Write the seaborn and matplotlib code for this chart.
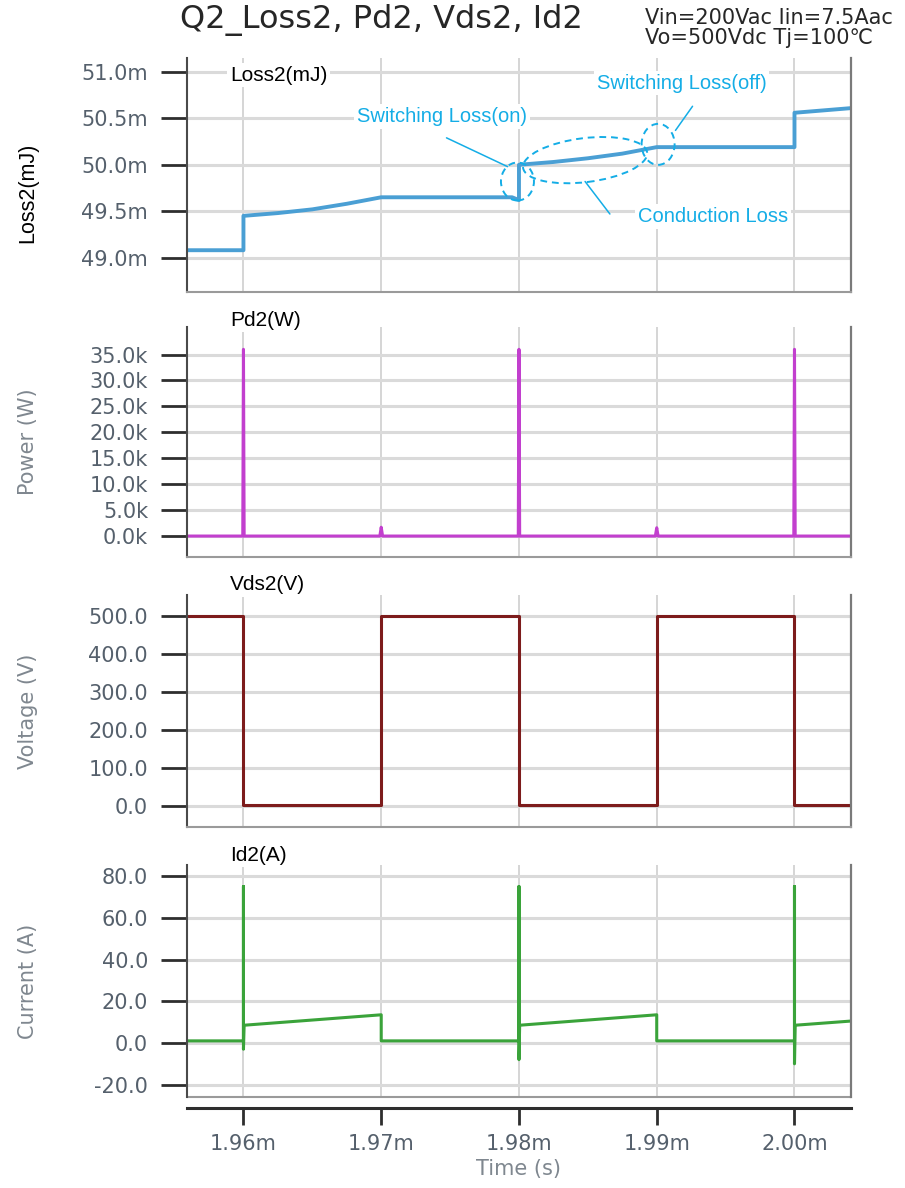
"""Q2 loss / power / Vds / Id waveforms, four stacked panels."""

import matplotlib.pyplot as plt
import seaborn as sns
from matplotlib.lines import Line2D
from matplotlib.patches import Ellipse
from matplotlib.transforms import ScaledTranslation

sns.set_style("white")
plt.rcParams["font.family"] = ["DejaVu Sans", "Noto Sans CJK JP"]

# time axis in ms (labels carry the "m" prefix of seconds)
X_MIN, X_MAX = 1.9559, 2.0041
time_ticks = [1.96, 1.97, 1.98, 1.99, 2.00]

# Loss2 (mJ)
t_loss = [1.9559, 1.9600, 1.9600, 1.9625, 1.9650, 1.9675, 1.9700, 1.9795,
          1.9800, 1.9800, 1.9825, 1.9850, 1.9875, 1.9900, 2.0000, 2.0000, 2.0041]
loss_mj = [49.08, 49.08, 49.45, 49.48, 49.52, 49.58, 49.65, 49.65,
           49.62, 50.00, 50.03, 50.07, 50.12, 50.19, 50.19, 50.56, 50.61]
loss_ticks = [49.0, 49.5, 50.0, 50.5, 51.0]

# Pd2 (kW)
t_pd = [1.9559, 1.95995, 1.9600, 1.96005, 1.9699, 1.9700, 1.9701, 1.97995, 1.9800,
        1.98005, 1.9899, 1.9900, 1.9901, 1.99995, 2.0000, 2.00005, 2.0041]
pd_kw = [0.0, 0.0, 36.0, 0.0, 0.0, 1.7, 0.0, 0.0, 36.0,
         0.0, 0.0, 1.6, 0.0, 0.0, 36.0, 0.0, 0.0]
pd_ticks = [0, 5, 10, 15, 20, 25, 30, 35]

# Vds2 (V)
t_vds = [1.9559, 1.9600, 1.9600, 1.9700, 1.9700, 1.9800, 1.9800, 1.9900,
         1.9900, 2.0000, 2.0000, 2.0041]
vds_v = [500, 500, 2, 2, 500, 500, 2, 2, 500, 500, 2, 2]
vds_ticks = [0, 100, 200, 300, 400, 500]

# Id2 (A)
t_id = [1.9559, 1.9600, 1.9600, 1.9600, 1.96005, 1.9700, 1.9700, 1.9800, 1.9800,
        1.9800, 1.98005, 1.9900, 1.9900, 2.0000, 2.0000, 2.0000, 2.00005, 2.0041]
id_a = [1.0, 1.0, 75.0, -3.0, 8.5, 13.5, 1.0, 1.0, 75.0,
        -8.0, 8.5, 13.5, 1.0, 1.0, 75.0, -10.0, 8.5, 10.5]
id_ticks = [-20, 0, 20, 40, 60, 80]

TICK_TXT = "#55606c"
LABEL_GREY = "#7f878f"
ANN = "#14ade6"
ARIAL = "Liberation Sans"

fig = plt.figure(figsize=(9.05, 11.88), dpi=100)
left, width = 0.2066, 0.7337
ax1 = fig.add_axes([left, 0.7542, width, 0.1970])
ax2 = fig.add_axes([left, 0.5311, width, 0.1936])
ax3 = fig.add_axes([left, 0.3039, width, 0.1953])
ax4 = fig.add_axes([left, 0.0766, width, 0.1953])


def style_axis(ax, ticks, fmt, ylim):
    ax.set_xlim(X_MIN, X_MAX)
    ax.set_ylim(*ylim)
    ax.set_xticks(time_ticks)
    ax.set_yticks(ticks)
    ax.set_yticklabels([fmt(v) for v in ticks])
    ax.grid(axis="y", color="#dadada", lw=2.2)
    ax.grid(axis="x", color="#d2d2d2", lw=1.3)
    ax.set_axisbelow(True)
    ax.spines["top"].set_visible(False)
    ax.spines["left"].set_color("#4a4a4a")
    ax.spines["left"].set_linewidth(1.5)
    ax.spines["right"].set_color("#7a7a7a")
    ax.spines["right"].set_linewidth(1.6)
    ax.spines["bottom"].set_color("#9a9a9a")
    ax.spines["bottom"].set_linewidth(1.5)
    ax.tick_params(axis="y", left=True, length=19, width=2, color="#2e2e2e", pad=9,
                   labelsize=15, labelcolor=TICK_TXT)
    ax.tick_params(axis="x", bottom=False, length=0, labelbottom=False)
    ax.set_xlabel("")


def panel_title(ax, text, y):
    ax.text(0.065, y, text, transform=ax.transAxes, ha="left", va="center",
            fontsize=15, family=ARIAL, color="black", zorder=5,
            bbox=dict(fc="white", ec="none", pad=2))


# --- Loss2 -------------------------------------------------------------
sns.lineplot(x=t_loss, y=loss_mj, ax=ax1, color="#4a9fd4", lw=2.8,
             estimator=None, sort=False)
style_axis(ax1, loss_ticks, lambda v: f"{v:.1f}m", (48.63, 51.15))
ax1.set_ylabel("Loss2(mJ)", fontsize=15.5, family=ARIAL, color="black")
ax1.yaxis.set_label_coords(-0.224, 0.423)
panel_title(ax1, "Loss2(mJ)", 0.927)

ann_font = dict(fontsize=14.5, family=ARIAL, color=ANN, ha="center", va="center",
                zorder=6, bbox=dict(fc="white", ec="none", pad=2))
ax1.text(1.9744, 50.52, "Switching Loss(on)", **ann_font)
ax1.text(1.9918, 50.88, "Switching Loss(off)", **ann_font)
ax1.text(1.9941, 49.44, "Conduction Loss", **ann_font)

for (x0, y0), (x1, y1) in [((1.97474, 50.29), (1.97917, 49.98)),
                           ((1.99260, 50.63), (1.99136, 50.37)),
                           ((1.98480, 49.82), (1.98660, 49.47))]:
    ax1.annotate("", xy=(x1, y1), xytext=(x0, y0),
                 arrowprops=dict(arrowstyle="-", color=ANN, lw=1.1,
                                 shrinkA=0, shrinkB=0))

for xc, yc, w, h, ang in [(1.97989, 49.82, 0.33, 0.38, 0),
                          (1.98480, 50.05, 1.25, 0.44, 7),
                          (1.99010, 50.22, 0.33, 0.41, 0)]:
    ell = Ellipse((0, 0), w, h, angle=ang, fill=False, ec=ANN, lw=1.4,
                  ls=(0, (3.5, 2.5)), zorder=4,
                  transform=fig.dpi_scale_trans + ScaledTranslation(xc, yc, ax1.transData))
    ax1.add_patch(ell)

# --- Pd2 ---------------------------------------------------------------
sns.lineplot(x=t_pd, y=pd_kw, ax=ax2, color="#c23fce", lw=2.2,
             estimator=None, sort=False)
style_axis(ax2, pd_ticks, lambda v: f"{v:.1f}k", (-4.05, 40.3))
ax2.set_ylabel("Power (W)", fontsize=15, color=LABEL_GREY)
ax2.yaxis.set_label_coords(-0.224, 0.5)
panel_title(ax2, "Pd2(W)", 1.03)

# --- Vds2 --------------------------------------------------------------
sns.lineplot(x=t_vds, y=vds_v, ax=ax3, color="#7d1c1c", lw=2.2,
             estimator=None, sort=False)
style_axis(ax3, vds_ticks, lambda v: f"{v:.1f}", (-55.3, 555.3))
ax3.set_ylabel("Voltage (V)", fontsize=15, color=LABEL_GREY)
ax3.yaxis.set_label_coords(-0.224, 0.5)
panel_title(ax3, "Vds2(V)", 1.043)

# --- Id2 ---------------------------------------------------------------
sns.lineplot(x=t_id, y=id_a, ax=ax4, color="#3aa33a", lw=2.2,
             estimator=None, sort=False)
style_axis(ax4, id_ticks, lambda v: f"{v:.1f}", (-25.9, 85.3))
ax4.set_ylabel("Current (A)", fontsize=15, color=LABEL_GREY)
ax4.yaxis.set_label_coords(-0.224, 0.5)
panel_title(ax4, "Id2(A)", 1.043)

# separate time axis below the last frame
ax4.add_line(Line2D([0, 1], [0, 0], transform=ax4.transAxes, color="#9a9a9a",
                    lw=1.5, clip_on=False))
ax4.spines["bottom"].set_position(("outward", 8))
ax4.spines["bottom"].set_color("#2e2e2e")
ax4.spines["bottom"].set_linewidth(2.2)
ax4.tick_params(axis="x", bottom=True, length=12, width=2, color="#2e2e2e", pad=7,
                labelbottom=True, labelsize=15, labelcolor=TICK_TXT)
ax4.set_xticklabels([f"{t:.2f}m" for t in time_ticks])
ax4.set_xlabel("Time (s)", fontsize=15, color=LABEL_GREY, labelpad=3)

fig.text(0.422, 0.983, "Q2_Loss2, Pd2, Vds2, Id2", ha="center", va="center",
         fontsize=23)
fig.text(0.713, 0.9765, "Vin=200Vac Iin=7.5Aac\nVo=500Vdc Tj=100℃",
         ha="left", va="center", fontsize=15, linespacing=1.05)

fig.savefig("out.png", dpi=100)
